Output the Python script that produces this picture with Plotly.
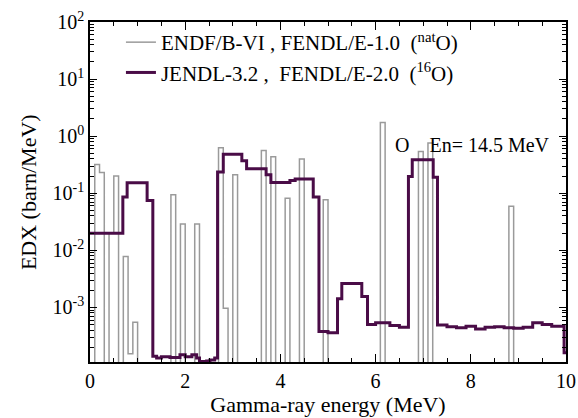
import numpy as np
import plotly.graph_objects as go

# ENDF/B-VI, FENDL/E-1.0 (natO): 0.1 MeV bins; only non-zero bins listed
endf_bin_start = [0.1, 0.2, 0.4, 0.5, 0.7, 0.8, 0.9, 1.7, 1.9, 2.2, 2.7, 2.8, 3.0,
                  3.6, 3.8, 4.1, 4.4, 4.9, 6.1, 6.9, 7.1, 8.8]
endf_values = [0.32, 0.23, 0.020, 0.20, 0.0078, 1.55e-4, 5.5e-4, 0.094, 0.029, 0.029,
               0.63, 9.7e-4, 0.21, 0.56, 0.435, 0.082, 0.40, 0.077, 1.74, 0.54, 0.76, 0.059]
endf_bin_width = 0.1

# JENDL-3.2, FENDL/E-2.0 (16O): step histogram (bin edges, values)
jendl_edges = [0.0, 0.69, 0.78, 1.20, 1.32, 1.40, 1.50, 1.68, 1.89, 2.00, 2.14, 2.24,
               2.30, 2.45, 2.52, 2.62, 2.68, 2.80, 3.19, 3.29, 3.70, 3.80, 4.20, 4.31,
               4.69, 4.81, 5.00, 5.20, 5.29, 5.71, 5.83, 6.00, 6.30, 6.50, 6.69, 6.77,
               7.21, 7.30, 7.50, 7.70, 7.90, 8.10, 8.30, 8.50, 8.70, 8.90, 9.10, 9.30,
               9.50, 9.70, 9.96, 10.0]
jendl_values = [0.020, 0.086, 0.153, 0.075, 1.4e-4, 1.3e-4, 1.37e-4, 1.33e-4, 1.48e-4,
                1.37e-4, 1.48e-4, 1.3e-4, 1.13e-4, 1.15e-4, 1.2e-4, 1.3e-4, 0.235, 0.48,
                0.37, 0.27, 0.21, 0.155, 0.167, 0.177, 0.086, 3.8e-4, 3.6e-4, 1.42e-3,
                2.63e-3, 1.56e-3, 5.0e-4, 5.4e-4, 4.8e-4, 4.5e-4, 0.197, 0.386, 0.19,
                4.9e-4, 4.6e-4, 4.4e-4, 4.7e-4, 4.2e-4, 4.5e-4, 4.6e-4, 4.4e-4, 4.3e-4,
                4.5e-4, 5.4e-4, 5.0e-4, 4.7e-4, 1.6e-4]

y_tick_vals = [1e-3, 1e-2, 1e-1, 1e0, 1e1, 1e2]
y_tick_text = ["10<sup>-3</sup>", "10<sup>-2</sup>", "10<sup>-1</sup>",
               "10<sup>0</sup>", "10<sup>1</sup>", "10<sup>2</sup>"]

# build full ENDF histogram (zero bins drawn below the axis floor)
nbins = 100
endf_edges = np.round(np.arange(nbins + 1) * endf_bin_width, 2)
endf_full = np.full(nbins, 1e-9)
for s, v in zip(endf_bin_start, endf_values):
    endf_full[int(round(s / endf_bin_width))] = v
endf_y = np.append(endf_full, endf_full[-1])

jendl_y = list(jendl_values) + [jendl_values[-1]]

FONT = "Liberation Serif, Times New Roman, Times, serif"
NB = "\u00a0"

fig = go.Figure()
fig.add_trace(go.Scatter(
    x=endf_edges, y=endf_y, mode="lines", line=dict(shape="hv", color="#9a9a9a", width=1.5),
    name=f"ENDF/B-VI{NB},{NB}FENDL/E-1.0{NB}{NB}(<sup>nat</sup>O)"))
fig.add_trace(go.Scatter(
    x=jendl_edges, y=jendl_y, mode="lines", line=dict(shape="hv", color="#4a0c47", width=3),
    name=f"JENDL-3.2{NB},{NB}{NB}FENDL/E-2.0{NB}{NB}(<sup>16</sup>O)"))

minor_y = [m * 10.0 ** e for e in range(-4, 2) for m in range(2, 10)]

fig.update_layout(
    template="none",
    width=578, height=418,
    margin=dict(l=90, r=12, t=22, b=56),
    paper_bgcolor="white", plot_bgcolor="white",
    font=dict(family=FONT, size=20, color="black"),
    showlegend=True,
    legend=dict(x=0.065, y=1.0, xanchor="left", yanchor="top",
                bgcolor="rgba(0,0,0,0)", font=dict(family=FONT, size=21),
                itemwidth=30, tracegroupgap=0),
    xaxis=dict(range=[0, 10], tick0=0, dtick=2, ticks="inside", ticklen=8, tickwidth=1,
               tickcolor="black", showline=True, linecolor="black", linewidth=1.5,
               mirror="ticks", showgrid=False, zeroline=False, automargin=False,
               minor=dict(dtick=0.5, ticks="inside", ticklen=4, tickcolor="black", showgrid=False),
               tickfont=dict(family=FONT, size=20),
               title=dict(text="Gamma-ray energy (MeV)", font=dict(family=FONT, size=22), standoff=0)),
    yaxis=dict(type="log", range=[-3.956, 2], tickvals=y_tick_vals, ticktext=y_tick_text,
               ticks="inside", ticklen=7, tickwidth=1, tickcolor="black",
               showline=True, linecolor="black", linewidth=1.5, mirror="ticks",
               showgrid=False, zeroline=False, automargin=False,
               minor=dict(tickvals=minor_y, ticks="inside", ticklen=4, tickcolor="black", showgrid=False),
               tickfont=dict(family=FONT, size=20)),
)

# y-axis title placed as rotated text to match the reference position
fig.add_annotation(x=-0.13, y=0.5, xref="paper", yref="paper", xanchor="center", yanchor="middle",
                   text="EDX (barn/MeV)", textangle=-90, showarrow=False,
                   font=dict(family=FONT, size=22, color="black"))

fig.add_annotation(x=0.97, y=0.638, xref="paper", yref="paper", xanchor="right", yanchor="middle",
                   text=f"O{NB}{NB}{NB}{NB}En={NB}14.5{NB}MeV", showarrow=False,
                   font=dict(family=FONT, size=20, color="black"))

fig.write_html("out.html", post_script="document.body.style.margin='0';",
               config={"displayModeBar": False})
